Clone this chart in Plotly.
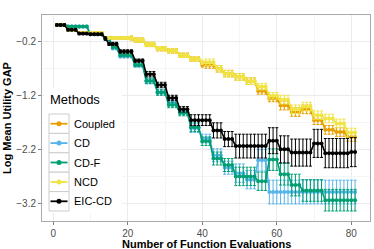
import plotly.graph_objects as go

evals = list(range(1, 82))

methods = ["Coupled", "CD", "CD-F", "NCD", "EIC-CD"]
colors = ["#E69F00", "#56B4E9", "#009E73", "#F0E442", "#000000"]

coupled = [0.11, 0.11, 0.11, 0.02, 0.02, 0.02, -0.04, -0.04, -0.04, -0.04, -0.04, -0.04, -0.04,
           -0.13, -0.13, -0.13, -0.13, -0.13, -0.13, -0.13, -0.13,
           -0.17, -0.17, -0.17, -0.25, -0.25, -0.25, -0.33, -0.33, -0.33, -0.37, -0.37, -0.37,
           -0.45, -0.45, -0.45, -0.52, -0.52, -0.52, -0.63, -0.63, -0.63, -0.63, -0.70, -0.70,
           -0.79, -0.79, -0.79, -0.85, -0.85, -0.85, -0.93, -0.93, -0.93, -1.11, -1.11, -1.11,
           -1.25, -1.25, -1.25, -1.38, -1.38, -1.38, -1.50, -1.50, -1.50, -1.45, -1.45, -1.45,
           -1.65, -1.65, -1.65, -1.83, -1.83, -1.83, -1.87, -1.87, -1.87, -1.96, -1.96, -1.96]
coupled_err = [0.02] * 20 + [0.04] * 20 + [0.06] * 20 + [0.08] * 21

cd = [0.11, 0.11, 0.11, 0.08, 0.08, 0.08, 0.08, 0.08, 0.08, -0.06, -0.06, -0.06, -0.06,
      -0.15, -0.15, -0.32, -0.32, -0.47, -0.47, -0.47, -0.47, -0.64, -0.64, -0.64,
      -0.93, -0.93, -0.93, -1.13, -1.13, -1.13, -1.33, -1.33, -1.33, -1.50, -1.50, -1.50,
      -1.80, -1.80, -1.80, -1.99, -1.99, -1.99, -2.30, -2.30, -2.30, -2.53, -2.53, -2.53,
      -2.63, -2.63, -2.63, -2.75, -2.75, -2.75, -2.39, -2.39, -2.39,
      -2.98, -2.98, -2.98, -2.98, -2.98, -2.98, -2.98, -2.98, -2.98, -2.98, -2.98, -2.98,
      -2.98, -2.98, -2.98, -2.98, -2.98, -2.98, -2.98, -2.98, -2.98, -2.98, -2.98, -2.98]
cd_err = [0.02] * 13 + [0.03] * 11 + [0.05] * 12 + [0.08] * 6 + [0.12] * 6 + [0.17] * 6 + [0.2] * 3 + [0.22] * 24

cdf = [0.11, 0.11, 0.11, 0.08, 0.08, 0.08, 0.08, 0.08, 0.08, -0.06, -0.06, -0.06, -0.06,
       -0.14, -0.14, -0.30, -0.30, -0.45, -0.45, -0.45, -0.45, -0.63, -0.63, -0.63,
       -0.92, -0.92, -0.92, -1.14, -1.14, -1.14, -1.37, -1.37, -1.37, -1.52, -1.52, -1.52,
       -1.78, -1.78, -1.78, -2.04, -2.04, -2.04, -2.36, -2.36, -2.36, -2.48, -2.48, -2.48,
       -2.69, -2.69, -2.69, -2.69, -2.69, -2.69, -2.78, -2.78, -2.78, -2.38, -2.38, -2.38,
       -2.65, -2.65, -2.65, -2.85, -2.85, -2.85, -2.95, -2.95, -2.95, -2.95, -2.95, -2.95,
       -3.13, -3.13, -3.13, -3.13, -3.13, -3.13, -3.13, -3.13, -3.13]
cdf_err = [0.02] * 13 + [0.03] * 11 + [0.05] * 12 + [0.08] * 6 + [0.12] * 6 + [0.17] * 9 + [0.2] * 24

ncd = [0.11, 0.11, 0.11, 0.02, 0.02, 0.02, -0.04, -0.04, -0.04, -0.04, -0.04, -0.04, -0.04,
       -0.13, -0.13, -0.13, -0.13, -0.13, -0.13, -0.13, -0.13,
       -0.17, -0.17, -0.17, -0.25, -0.25, -0.25, -0.33, -0.33, -0.33, -0.37, -0.37, -0.37,
       -0.45, -0.45, -0.45, -0.52, -0.52, -0.52, -0.58, -0.58, -0.58, -0.58, -0.70, -0.70,
       -0.79, -0.79, -0.79, -0.85, -0.85, -0.85, -0.93, -0.93, -0.93, -1.03, -1.03, -1.03,
       -1.20, -1.20, -1.20, -1.27, -1.27, -1.27, -1.45, -1.45, -1.45, -1.40, -1.40, -1.40,
       -1.56, -1.56, -1.56, -1.62, -1.62, -1.62, -1.71, -1.71, -1.71, -1.88, -1.88, -1.88]
ncd_err = [0.02] * 20 + [0.04] * 20 + [0.06] * 20 + [0.08] * 21

eiccd = [0.11, 0.11, 0.11, 0.02, 0.02, 0.02, -0.05, -0.05, -0.05, -0.06, -0.06, -0.06, -0.06,
         -0.14, -0.24, -0.24, -0.24, -0.38, -0.38, -0.38, -0.38, -0.55, -0.55, -0.55,
         -0.80, -0.80, -0.80, -1.00, -1.00, -1.00, -1.24, -1.24, -1.24, -1.45, -1.45, -1.45,
         -1.65, -1.65, -1.65, -1.65, -1.65, -1.65, -1.84, -1.84, -1.84, -2.00, -2.00, -2.00,
         -2.13, -2.13, -2.13, -2.13, -2.13, -2.13, -2.13, -2.13, -2.13, -2.03, -2.03, -2.03,
         -2.19, -2.19, -2.19, -2.25, -2.25, -2.25, -2.25, -2.25, -2.25, -2.08, -2.08, -2.08,
         -2.26, -2.26, -2.26, -2.26, -2.26, -2.26, -2.26, -2.24, -2.24]
eiccd_err = [0.02] * 13 + [0.03] * 11 + [0.05] * 12 + [0.10] * 6 + [0.14] * 6 + [0.22] * 9 + [0.24] * 3 + [0.25] * 9 + [0.26] * 3 + [0.27] * 9

series = [coupled, cd, cdf, ncd, eiccd]
errors = [coupled_err, cd_err, cdf_err, ncd_err, eiccd_err]

x_ticks = [0, 20, 40, 60, 80]
y_ticks = [-3.2, -2.2, -1.2, -0.2]
y_ticktext = ["\u22123.2", "\u22122.2", "\u22121.2", "\u22120.2"]

fig = go.Figure()
for name, col, vals, err in zip(methods, colors, series, errors):
    fig.add_trace(go.Scatter(
        x=evals, y=vals, name=name, mode="lines+markers", showlegend=False,
        line=dict(color=col, width=1.6),
        marker=dict(color=col, size=4),
        error_y=dict(type="data", array=err, color=col, thickness=1, width=1.5),
    ))

# legend panel drawn in paper coordinates (plot area 42..370 x 15..221 px)
W, L = 328.0, 42.0
H, T = 206.0, 15.0
def px(xp):
    return (xp - L) / W
def py(yp):
    return (T + H - yp) / H

font_family = "Liberation Sans, Arial, sans-serif"
shapes = [dict(type="rect", xref="paper", yref="paper", x0=px(44), x1=px(122), y0=py(213), y1=py(88),
               fillcolor="white", line=dict(width=0), layer="above")]
annotations = [
    dict(text="Methods", xref="paper", yref="paper", x=px(47.5), y=py(99),
         xanchor="left", yanchor="middle", showarrow=False,
         font=dict(size=13, color="black", family=font_family)),
    dict(text="<b>Number of Function Evaluations</b>", xref="paper", yref="paper", x=0.5, y=py(235.5),
         xanchor="center", yanchor="top", showarrow=False,
         font=dict(size=11, color="black", family=font_family)),
]
key_top = 114.0
key_h = 19.4
for i, (name, col) in enumerate(zip(methods, colors)):
    top = key_top + i * key_h
    mid = top + key_h / 2
    shapes.append(dict(type="rect", xref="paper", yref="paper",
                       x0=px(49), x1=px(69), y0=py(top + key_h), y1=py(top),
                       fillcolor="white", line=dict(color="#CCCCCC", width=1), layer="above"))
    shapes.append(dict(type="line", xref="paper", yref="paper",
                       x0=px(50.5), x1=px(67.5), y0=py(mid), y1=py(mid),
                       line=dict(color=col, width=1.8), layer="above"))
    shapes.append(dict(type="circle", xref="paper", yref="paper",
                       x0=px(56.5), x1=px(61.5), y0=py(mid + 2.5), y1=py(mid - 2.5),
                       fillcolor=col, line=dict(color=col, width=0), layer="above"))
    annotations.append(dict(text=name, xref="paper", yref="paper", x=px(71.5), y=py(mid),
                            xanchor="left", yanchor="middle", showarrow=False,
                            font=dict(size=11, color="black", family=font_family)))

fig.update_layout(
    width=374, height=249,
    margin=dict(l=42, r=4, t=15, b=28, autoexpand=False),
    paper_bgcolor="white", plot_bgcolor="white",
    font=dict(family=font_family, size=10, color="#4D4D4D"),
    showlegend=False,
    shapes=shapes,
    annotations=annotations,
    xaxis=dict(
        range=[-3, 85], tickvals=x_ticks, ticks="outside", ticklen=3, automargin=False,
        tickcolor="#7F7F7F", showgrid=True, gridcolor="#EBEBEB", gridwidth=1,
        minor=dict(dtick=10, tick0=0, showgrid=True, gridcolor="#F5F5F5", gridwidth=0.6),
        zeroline=False, showline=True, linecolor="#AAAAAA", linewidth=1, mirror=True,
        tickfont=dict(size=10, color="#4D4D4D"),
    ),
    yaxis=dict(
        range=[-3.515, 0.294], tickvals=y_ticks, ticktext=y_ticktext, ticks="outside", ticklen=3, automargin=False,
        tickcolor="#7F7F7F", showgrid=True, gridcolor="#EBEBEB", gridwidth=1,
        minor=dict(tickvals=[-2.7, -1.7, -0.7], showgrid=True, gridcolor="#F5F5F5", gridwidth=0.6),
        zeroline=False, showline=True, linecolor="#AAAAAA", linewidth=1, mirror=True,
        tickfont=dict(size=10, color="#4D4D4D"),
        title=dict(text="<b>Log Mean Utility GAP</b>", font=dict(size=11, color="black"), standoff=2),
    ),
)

fig.write_html("out.html", config={"displayModeBar": False},
               post_script="document.body.style.margin='0';document.body.style.padding='0';")
